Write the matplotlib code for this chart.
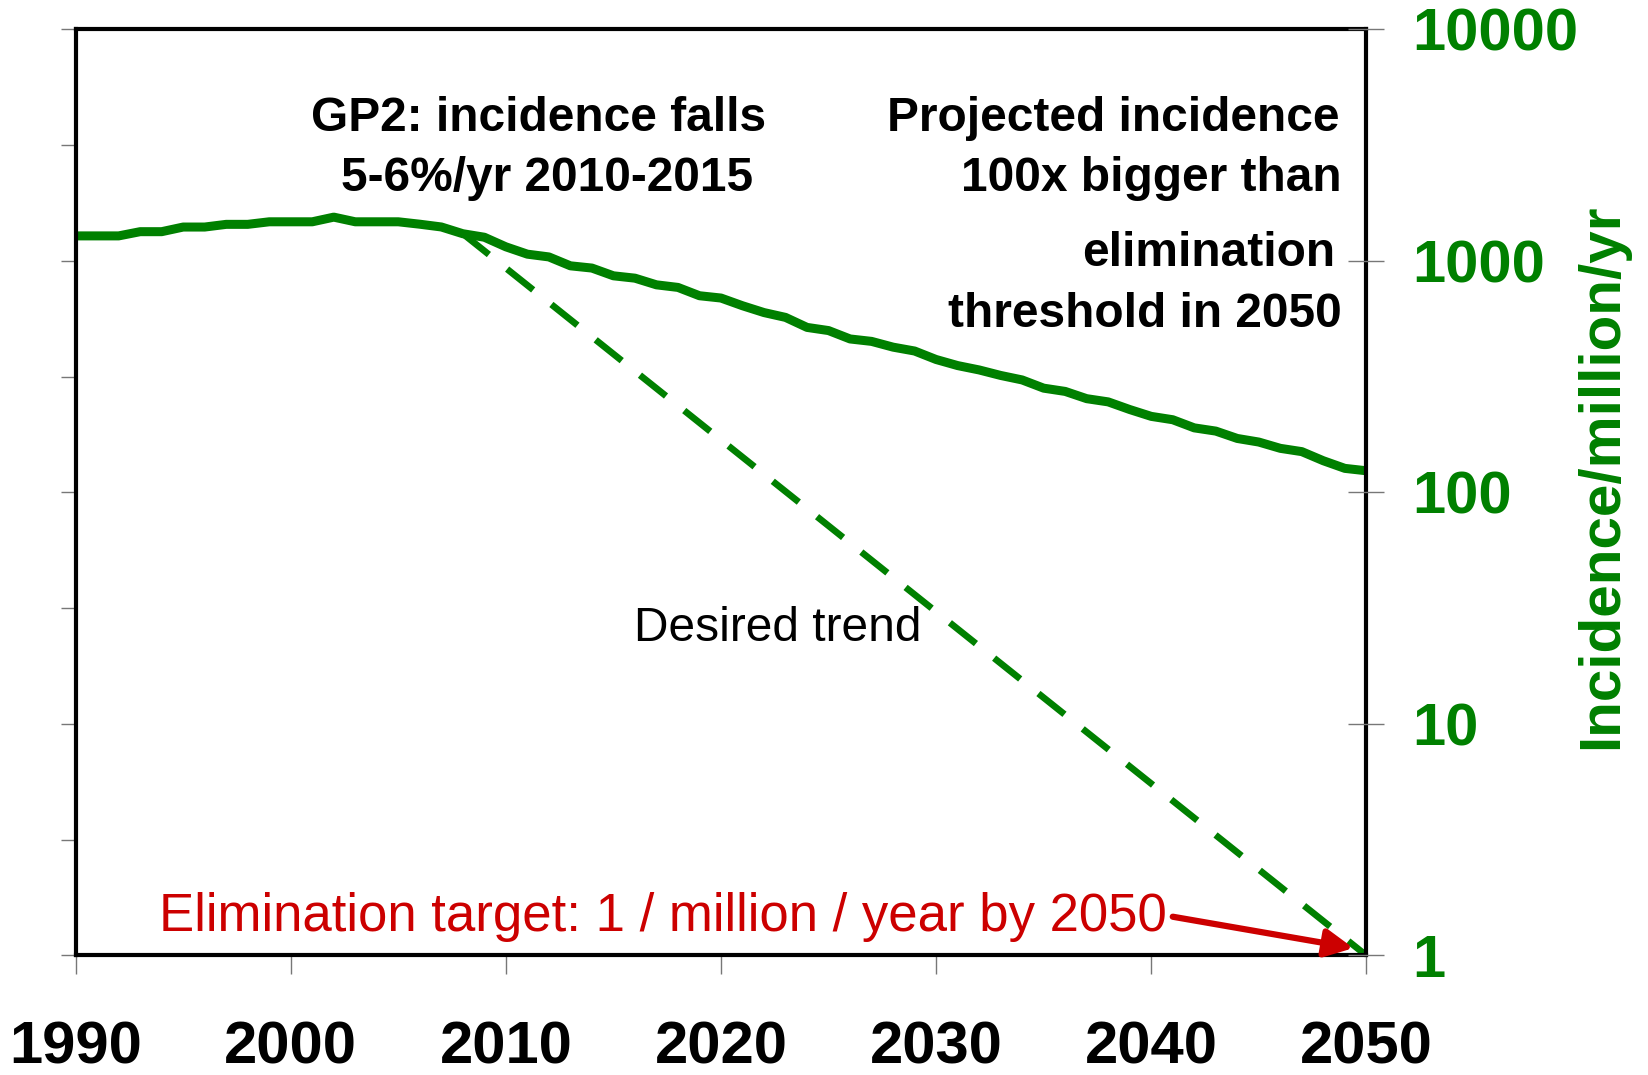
import matplotlib
matplotlib.use("Agg")
import matplotlib.pyplot as plt
from matplotlib.ticker import FixedLocator, NullLocator, NullFormatter

plt.rcParams['font.family'] = ['Liberation Sans', 'DejaVu Sans']

# Data
years = list(range(1990, 2051))
incidence = [1282, 1282, 1282, 1337, 1337, 1400, 1400, 1438, 1438, 1475,
             1475, 1475, 1545, 1475, 1475, 1475, 1440, 1401, 1310, 1265,
             1150, 1069, 1040, 952, 931, 862, 842, 788, 768, 707,
             691, 640, 598, 570, 516, 500, 460, 449, 424, 408,
             375, 353, 338, 320, 306, 282, 273, 254, 246, 228,
             213, 206, 190, 184, 171, 165, 155, 150, 137, 127,
             124]

trend_years = [2008, 2050]
trend_values = [1310, 1]

x_ticks = [1990, 2000, 2010, 2020, 2030, 2040, 2050]
right_ticks = [1, 10, 100, 1000, 10000]
right_labels = ['1', '10', '100', '1000', '10000']
left_ticks = [1, 3.162, 10, 31.62, 100, 316.2, 1000, 3162, 10000]

green = '#008000'
red = '#CC0000'

fig = plt.figure(figsize=(16.48, 10.75), dpi=100)
ax = fig.add_axes([0.0459, 0.1112, 0.7832, 0.8615])

ax.plot(years, incidence, color=green, lw=6.5, solid_capstyle='butt', solid_joinstyle='round')
ax.plot(trend_years, trend_values, color=green, lw=4.8, dashes=(5.0, 3.5),
        dash_capstyle='butt')

ax.set_yscale('log')
ax.set_xlim(1990, 2050)
ax.set_ylim(1, 10000)

for s in ax.spines.values():
    s.set_linewidth(3)
    s.set_color('black')

# left axis: unlabeled half-decade ticks
ax.yaxis.set_major_locator(FixedLocator(left_ticks))
ax.yaxis.set_minor_locator(NullLocator())
ax.yaxis.set_major_formatter(NullFormatter())
ax.yaxis.set_minor_formatter(NullFormatter())
ax.tick_params(axis='y', direction='out', length=11, width=1, color='#777777')

ax.set_xticks(x_ticks)
ax.set_xticklabels([str(t) for t in x_ticks], fontsize=43, fontweight='bold')
ax.tick_params(axis='x', direction='out', length=14, width=1, color='#777777', pad=33)

# right axis
ax2 = ax.twinx()
ax2.set_yscale('log')
ax2.set_ylim(1, 10000)
ax2.yaxis.set_major_locator(FixedLocator(right_ticks))
ax2.yaxis.set_minor_locator(NullLocator())
ax2.set_yticklabels(right_labels, fontsize=43, fontweight='bold', color=green)
ax2.tick_params(axis='y', direction='inout', length=26, width=1, color='#777777', pad=20)
for s in ax2.spines.values():
    s.set_visible(False)
ax.text(1.183, 0.5176, 'Incidence/million/yr', transform=ax.transAxes, rotation=90,
        fontsize=42, fontweight='bold', color=green, ha='center', va='center')

# annotations
ax.text(0.3587, 0.9035, 'GP2: incidence falls', transform=ax.transAxes,
        fontsize=34.5, fontweight='bold', ha='center', va='center')
ax.text(0.3656, 0.8388, '5-6%/yr 2010-2015', transform=ax.transAxes,
        fontsize=34.5, fontweight='bold', ha='center', va='center')

ax.text(0.979, 0.9035, 'Projected incidence', transform=ax.transAxes,
        fontsize=34.5, fontweight='bold', ha='right', va='center')
ax.text(0.981, 0.8388, '100x bigger than', transform=ax.transAxes,
        fontsize=34.5, fontweight='bold', ha='right', va='center')
ax.text(0.9756, 0.7582, 'elimination', transform=ax.transAxes,
        fontsize=34.5, fontweight='bold', ha='right', va='center')
ax.text(0.981, 0.6924, 'threshold in 2050', transform=ax.transAxes,
        fontsize=34.5, fontweight='bold', ha='right', va='center')

ax.text(0.5436, 0.3535, 'Desired trend', transform=ax.transAxes,
        fontsize=34.5, ha='center', va='center')

ax.text(2040.7, 1.46, 'Elimination target: 1 / million / year by 2050',
        fontsize=38, color=red, ha='right', va='center')
ax.annotate('', xy=(2049.4, 1.076), xytext=(2041.0, 1.47),
            arrowprops=dict(arrowstyle='-|>', color=red, lw=4.5, mutation_scale=42,
                            shrinkA=0, shrinkB=0))

fig.savefig('out.png', dpi=100)
